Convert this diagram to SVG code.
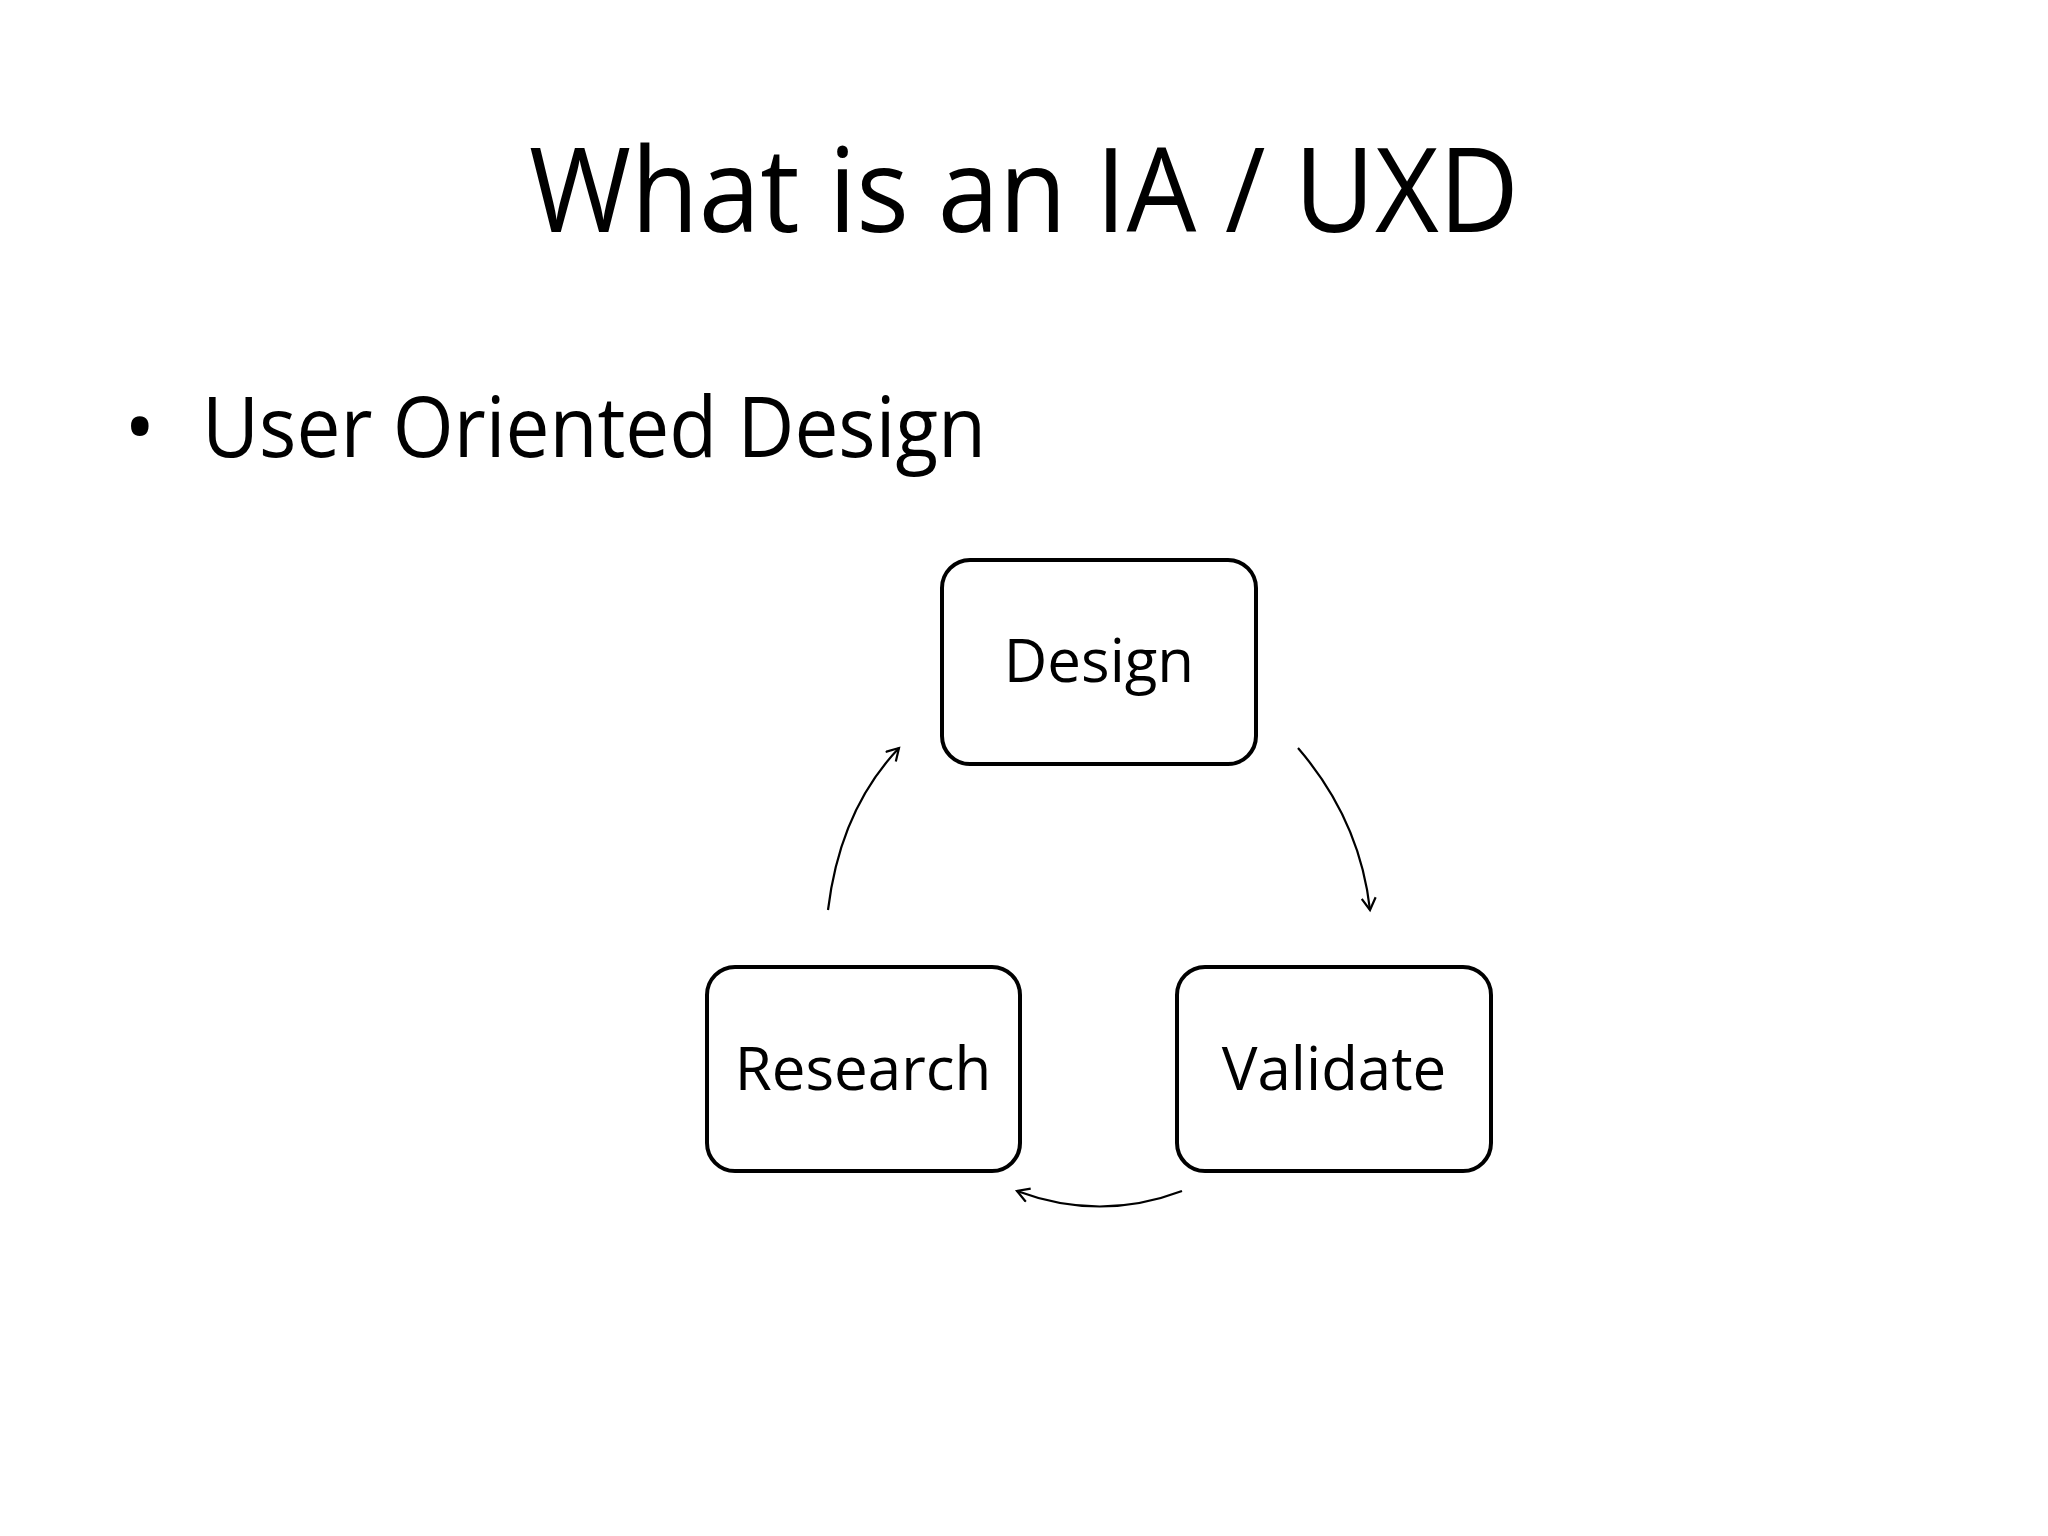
<svg xmlns="http://www.w3.org/2000/svg" width="2048" height="1536" viewBox="0 0 2048 1536">
<style>
text{font-family:"Open Sans","Noto Sans",sans-serif;fill:#000}
.box{fill:#fff;stroke:#000;stroke-width:4}
.lbl{font-size:60px;text-anchor:middle}
.c{fill:none;stroke:#000;stroke-width:2.2}
</style>
<defs><marker id="a" markerWidth="16" markerHeight="16" refX="13" refY="8" orient="auto" markerUnits="userSpaceOnUse"><path d="M1,1 L13,8 L1,15" fill="none" stroke="#000" stroke-width="2.2"/></marker></defs>
<rect width="2048" height="1536" fill="#fff"/>
<text x="1024" y="232" font-size="118" text-anchor="middle" textLength="990" lengthAdjust="spacingAndGlyphs">What is an IA / UXD</text>
<text x="124" y="457" font-size="84">•</text>
<text x="202" y="457" font-size="84" textLength="784" lengthAdjust="spacingAndGlyphs">User Oriented Design</text>
<g id="design"><rect class="box" x="942" y="560" width="314" height="204" rx="28"/><text class="lbl" x="1099" y="682">Design</text></g>
<g id="research"><rect class="box" x="707" y="967" width="313" height="204" rx="28"/><text class="lbl" x="863" y="1090">Research</text></g>
<g id="validate"><rect class="box" x="1177" y="967" width="314" height="204" rx="28"/><text class="lbl" x="1334" y="1090">Validate</text></g>
<g id="connectors">
<path class="c" d="M828,910 Q840,810 899,748" marker-end="url(#a)"/>
<path class="c" d="M1298,748 Q1360,820 1370,910" marker-end="url(#a)"/>
<path class="c" d="M1182,1191 Q1100,1222 1017,1191" marker-end="url(#a)"/>
</g>
</svg>
